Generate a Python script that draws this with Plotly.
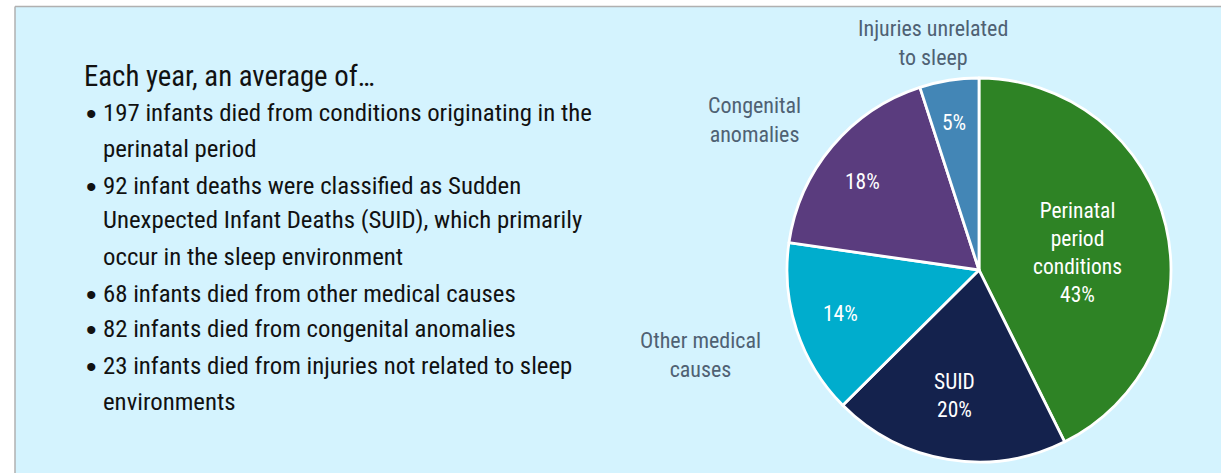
import plotly.graph_objects as go

categories = ["Perinatal period conditions", "SUID", "Other medical causes",
              "Congenital anomalies", "Injuries unrelated to sleep"]
deaths = [197, 92, 68, 82, 23]
pct_labels = ["43%", "20%", "14%", "18%", "5%"]
inside_names = ["Perinatal<br>period<br>conditions", "SUID", "", "", ""]
outside_names = ["", "", "Other medical<br>causes", "Congenital<br>anomalies", "Injuries unrelated<br>to sleep"]
colors = ["#2e8325", "#14224d", "#00adcd", "#5a3c7e", "#4386b6"]

title_line = "Each year, an average of…"
bullet_lines = [
    ("• ", "197 infants died from conditions originating in the"),
    ("", "perinatal period"),
    ("• ", "92 infant deaths were classified as Sudden"),
    ("", "Unexpected Infant Deaths (SUID), which primarily"),
    ("", "occur in the sleep environment"),
    ("• ", "68 infants died from other medical causes"),
    ("• ", "82 infants died from congenital anomalies"),
    ("• ", "23 infants died from injuries not related to sleep"),
    ("", "environments"),
]

FONT = "Liberation Sans Narrow, Arial Narrow, Roboto Condensed, Roboto, sans-serif"
W, H = 1221, 473


def px(x):
    return x / W


def py(y):
    return 1 - y / H


fig = go.Figure()
fig.add_trace(go.Pie(
    labels=categories, values=deaths, textinfo="none",
    sort=False, direction="clockwise", rotation=0,
    marker=dict(colors=colors, line=dict(color="white", width=2.8)),
    hoverinfo="label+value",
    domain=dict(x=[px(787), px(1171)], y=[py(463), py(77)]),
    showlegend=False,
))

shapes = [
    dict(type="rect", xref="paper", yref="paper", x0=px(15), x1=1.01, y0=-0.01, y1=py(6),
         fillcolor="#d4f3fe", line=dict(width=0), layer="below"),
    dict(type="line", xref="paper", yref="paper", x0=px(15), x1=1, y0=py(6.5), y1=py(6.5),
         line=dict(color="#b0b0b0", width=1.5), layer="below"),
    dict(type="line", xref="paper", yref="paper", x0=px(15), x1=px(15), y0=0, y1=py(6.5),
         line=dict(color="#b0b0b0", width=1.5), layer="below"),
]

annotations = [dict(xref="paper", yref="paper", x=px(82), y=py(76), text=title_line,
                    showarrow=False, xanchor="left", yanchor="middle",
                    font=dict(family=FONT, size=28.8, color="#111111"))]
ys = [112, 148, 185, 220, 256, 293, 328, 365, 401]
for (b, t), yy in zip(bullet_lines, ys):
    if b:
        annotations.append(dict(xref="paper", yref="paper", x=px(91), y=py(yy + 1), text="•",
                                showarrow=False, xanchor="center", yanchor="middle",
                                font=dict(family="Liberation Sans, Arial, sans-serif", size=30,
                                          color="#111111")))
    annotations.append(dict(xref="paper", yref="paper", x=px(101), y=py(yy), text=t,
                            showarrow=False, xanchor="left", yanchor="middle",
                            font=dict(family=FONT, size=24.8, color="#111111")))

# labels inside slices (name + percentage)
inside_pos = [(1077, 252), (954, 395), (840, 313), (862, 181), (954, 122)]
for name, pct, (xx, yy) in zip(inside_names, pct_labels, inside_pos):
    t = f"{name}<br>{pct}" if name else pct
    annotations.append(dict(xref="paper", yref="paper", x=px(xx), y=py(yy), text=t,
                            showarrow=False, xanchor="center", yanchor="middle",
                            font=dict(family=FONT, size=21.5, color="white")))

outside_pos = [None, None, (700, 355), (754, 120), (933, 43)]
for name, pos in zip(outside_names, outside_pos):
    if not name:
        continue
    annotations.append(dict(xref="paper", yref="paper", x=px(pos[0]), y=py(pos[1]), text=name,
                            showarrow=False, xanchor="center", yanchor="middle",
                            font=dict(family=FONT, size=22, color="#4f6173")))

fig.update_layout(
    width=W, height=H, margin=dict(l=0, r=0, t=0, b=0),
    paper_bgcolor="white", plot_bgcolor="white",
    shapes=shapes, annotations=annotations,
)
fig.write_html("out.html", config={"displayModeBar": False},
               post_script="document.body.style.margin='0';")
